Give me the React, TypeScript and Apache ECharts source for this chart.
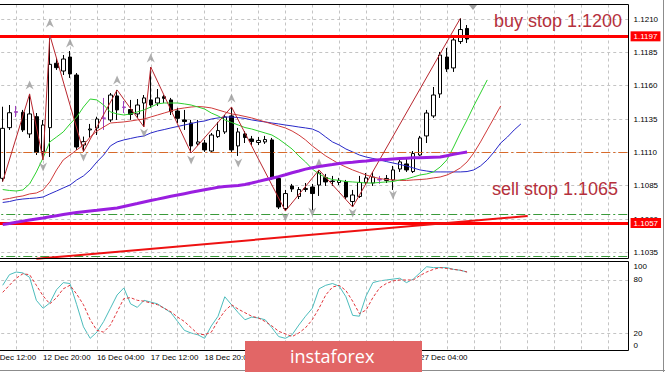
import React, { useEffect, useRef } from 'react';
import * as echarts from 'echarts';

// x-axis tick labels (every 8 H4 bars)
const tickLabels = ['11 Dec 12:00', '12 Dec 20:00', '16 Dec 04:00', '17 Dec 12:00', '18 Dec 20:00', '20 Dec 04:00', '23 Dec 12:00', '24 Dec 20:00', '27 Dec 04:00'];

// candles: [open, close, low, high]
const candles: number[][] = [
  [1.10905, 1.11280, 1.10880, 1.11442], [1.11285, 1.11397, 1.11268, 1.11455], [1.11400, 1.11405, 1.11365, 1.11448],
  [1.11400, 1.11268, 1.11253, 1.11418], [1.11238, 1.11388, 1.11208, 1.11538], [1.11367, 1.11100, 1.11080, 1.11395],
  [1.11105, 1.11305, 1.11043, 1.11343], [1.11285, 1.11760, 1.11065, 1.11980], [1.11768, 1.11735, 1.11718, 1.11808],
  [1.11710, 1.11800, 1.11680, 1.11830], [1.11815, 1.11688, 1.11658, 1.11860], [1.11680, 1.11140, 1.11118, 1.11695],
  [1.11155, 1.11180, 1.11105, 1.11218], [1.11268, 1.11275, 1.11208, 1.11313], [1.11283, 1.11350, 1.11230, 1.11367],
  [1.11358, 1.11355, 1.11268, 1.11508], [1.11343, 1.11530, 1.11328, 1.11545], [1.11523, 1.11418, 1.11343, 1.11568],
  [1.11440, 1.11437, 1.11395, 1.11485], [1.11421, 1.11384, 1.11343, 1.11493], [1.11388, 1.11455, 1.11358, 1.11500],
  [1.11470, 1.11508, 1.11290, 1.11530], [1.11493, 1.11455, 1.11433, 1.11740], [1.11470, 1.11508, 1.11448, 1.11575],
  [1.11517, 1.11505, 1.11470, 1.11530], [1.11493, 1.11405, 1.11380, 1.11508], [1.11410, 1.11355, 1.11320, 1.11433],
  [1.11343, 1.11331, 1.11268, 1.11418], [1.11320, 1.11148, 1.11095, 1.11343], [1.11163, 1.11178, 1.11148, 1.11343],
  [1.11170, 1.11118, 1.11103, 1.11193], [1.11110, 1.11230, 1.11103, 1.11245], [1.11218, 1.11263, 1.11208, 1.11328],
  [1.11253, 1.11365, 1.11238, 1.11380], [1.11373, 1.11118, 1.11095, 1.11440], [1.11148, 1.11253, 1.11073, 1.11283],
  [1.11238, 1.11211, 1.11170, 1.11260], [1.11200, 1.11181, 1.11155, 1.11223], [1.11174, 1.11189, 1.11155, 1.11215],
  [1.11178, 1.11196, 1.11163, 1.11223], [1.11193, 1.10908, 1.10893, 1.11208], [1.10904, 1.10690, 1.10675, 1.10923],
  [1.10679, 1.10791, 1.10660, 1.10818], [1.10848, 1.10825, 1.10803, 1.10863], [1.10769, 1.10821, 1.10750, 1.10840],
  [1.10821, 1.10829, 1.10803, 1.10870], [1.10840, 1.10791, 1.10668, 1.10863], [1.10855, 1.10945, 1.10773, 1.10968],
  [1.10911, 1.10878, 1.10848, 1.10938], [1.10885, 1.10881, 1.10848, 1.10923], [1.10874, 1.10889, 1.10855, 1.10908],
  [1.10881, 1.10765, 1.10750, 1.10893], [1.10731, 1.10780, 1.10690, 1.10818], [1.10769, 1.10874, 1.10758, 1.10923],
  [1.10874, 1.10908, 1.10855, 1.10945], [1.10870, 1.10915, 1.10848, 1.10953], [1.10893, 1.10896, 1.10863, 1.10923],
  [1.10889, 1.10904, 1.10870, 1.10930], [1.10893, 1.10968, 1.10818, 1.10998], [1.10975, 1.11028, 1.10953, 1.11065],
  [1.11013, 1.10968, 1.10953, 1.11065], [1.10956, 1.11091, 1.10945, 1.11110], [1.11080, 1.11208, 1.11073, 1.11223],
  [1.11223, 1.11395, 1.11170, 1.11418], [1.11373, 1.11530, 1.11358, 1.11590], [1.11538, 1.11830, 1.11508, 1.11853],
  [1.11815, 1.11725, 1.11703, 1.11883], [1.11733, 1.11943, 1.11703, 1.11958], [1.11931, 1.12021, 1.11913, 1.12105],
  [1.12029, 1.11950, 1.11920, 1.12055],
];
const dojiBars = [2, 15, 18, 56];

// Alligator (shifted into the future) and slow MA
const lipsGreen = [
  1.10821, 1.10814, 1.10810, 1.10818, 1.10863, 1.10953, 1.11058, 1.11178, 1.11215, 1.11253,
  1.11313, 1.11365, 1.11440, 1.11500, 1.11493, 1.11455, 1.11403, 1.11388, 1.11380, 1.11388,
  1.11403, 1.11418, 1.11440, 1.11463, 1.11470, 1.11470, 1.11470, 1.11463, 1.11455, 1.11440,
  1.11425, 1.11395, 1.11373, 1.11343, 1.11324, 1.11305, 1.11286, 1.11275, 1.11260, 1.11245,
  1.11230, 1.11200, 1.11163, 1.11125, 1.11073, 1.11028, 1.10975, 1.10938, 1.10911, 1.10896,
  1.10889, 1.10881, 1.10878, 1.10874, 1.10870, 1.10870, 1.10874, 1.10878, 1.10881, 1.10893,
  1.10900, 1.10915, 1.10930, 1.10938, 1.10953, 1.10990, 1.11043, 1.11140, 1.11245, 1.11343,
  1.11448, 1.11545, 1.11643,
];
const teethRed = [
  1.10746, 1.10754, 1.10765, 1.10773, 1.10788, 1.10795, 1.10818, 1.10878, 1.10968, 1.11043,
  1.11080, 1.11118, 1.11155, 1.11215, 1.11260, 1.11290, 1.11320, 1.11324, 1.11328, 1.11335,
  1.11343, 1.11350, 1.11365, 1.11380, 1.11395, 1.11410, 1.11425, 1.11433, 1.11440, 1.11444,
  1.11440, 1.11433, 1.11418, 1.11403, 1.11388, 1.11380, 1.11369, 1.11358, 1.11343, 1.11328,
  1.11313, 1.11298, 1.11283, 1.11260, 1.11230, 1.11193, 1.11148, 1.11110, 1.11073, 1.11043,
  1.11013, 1.10990, 1.10968, 1.10949, 1.10930, 1.10915, 1.10904, 1.10896, 1.10893, 1.10889,
  1.10889, 1.10893, 1.10896, 1.10900, 1.10908, 1.10915, 1.10930, 1.10953, 1.10983, 1.11028,
  1.11095, 1.11178, 1.11268, 1.11358, 1.11448,
];
const jawBlue = [
  1.10724, 1.10731, 1.10743, 1.10750, 1.10754, 1.10758, 1.10765, 1.10788, 1.10810, 1.10833,
  1.10855, 1.10893, 1.10923, 1.10968, 1.11028, 1.11080, 1.11148, 1.11178, 1.11193, 1.11204,
  1.11215, 1.11223, 1.11245, 1.11260, 1.11271, 1.11283, 1.11294, 1.11305, 1.11316, 1.11328,
  1.11335, 1.11350, 1.11358, 1.11365, 1.11365, 1.11361, 1.11354, 1.11343, 1.11335, 1.11328,
  1.11320, 1.11313, 1.11305, 1.11298, 1.11290, 1.11283, 1.11275, 1.11253, 1.11215, 1.11178,
  1.11155, 1.11125, 1.11103, 1.11080, 1.11065, 1.11054, 1.11043, 1.11031, 1.11020, 1.11009,
  1.10998, 1.10983, 1.10968, 1.10960, 1.10953, 1.10953, 1.10953, 1.10953, 1.10953, 1.10956,
  1.10968, 1.10998, 1.11043, 1.11103, 1.11170, 1.11215, 1.11268, 1.11313,
];
const maPurple = [
  1.10558, 1.10566, 1.10575, 1.10584, 1.10592, 1.10600, 1.10608, 1.10617, 1.10625, 1.10633,
  1.10641, 1.10648, 1.10654, 1.10660, 1.10665, 1.10671, 1.10677, 1.10683, 1.10694, 1.10705,
  1.10716, 1.10728, 1.10739, 1.10749, 1.10760, 1.10770, 1.10780, 1.10790, 1.10800, 1.10810,
  1.10819, 1.10828, 1.10838, 1.10844, 1.10848, 1.10852, 1.10859, 1.10870, 1.10882, 1.10894,
  1.10906, 1.10918, 1.10932, 1.10947, 1.10960, 1.10974, 1.10985, 1.10993, 1.11001, 1.11008,
  1.11016, 1.11022, 1.11026, 1.11031, 1.11035, 1.11040, 1.11044, 1.11047, 1.11050, 1.11053,
  1.11056, 1.11059, 1.11060, 1.11062, 1.11064, 1.11065, 1.11075, 1.11085, 1.11094, 1.11103,
];

// ZigZag turning points: [bar, 'H' | 'L']
const zigzagPoints: [number, string][] = [
  [0, 'L'], [4, 'H'], [6, 'L'], [7, 'H'], [12, 'L'], [17, 'H'], [21, 'L'], [22, 'H'],
  [28, 'L'], [34, 'H'], [42, 'L'], [47, 'H'], [52, 'L'], [68, 'H'],
];

// Fractals
const fractalUpBars = [4, 7, 10, 17, 22, 34, 47];
const fractalUpPrices = [1.11605, 1.12070, 1.11920, 1.11643, 1.11808, 1.11508, 1.11020];
const fractalDownBars = [6, 12, 21, 28, 35, 42, 46, 52, 58];
const fractalDownPrices = [1.10990, 1.11065, 1.11245, 1.11043, 1.11020, 1.10615, 1.10653, 1.10645, 1.10780];

// trend line
const trendBars = [5, 78];
const trendPrices = [1.10301, 1.10623];

// horizontal levels
const stopLevels = [1.1197, 1.1057];
const pivotLevels = [1.1110];
const greenLevels = [1.10637, 1.10323];
const bidPrice = 1.1195;

// Stochastic
const stochK = [
  74, 86, 89, 88, 83, 57, 48, 54, 69, 77, 76, 52, 27, 14, 21, 33, 48, 63, 71, 53,
  49, 57, 55, 53, 48, 43, 33, 23, 20, 18, 14, 28, 39, 61, 52, 43, 35, 38, 37, 35,
  26, 16, 14, 18, 29, 39, 48, 70, 74, 76, 73, 61, 40, 39, 62, 77, 79, 80, 81, 82,
  77, 81, 88, 95, 94, 94, 94, 92, 91, 89,
];
const stochD = [
  66, 74, 82, 87, 86, 74, 62, 53, 60, 70, 74, 64, 52, 35, 23, 21, 29, 44, 59, 60,
  57, 56, 54, 52, 48, 44, 38, 33, 26, 19, 18, 21, 34, 45, 52, 47, 43, 39, 37, 33,
  28, 22, 19, 16, 20, 26, 35, 48, 63, 72, 74, 68, 56, 42, 46, 60, 71, 76, 79, 80,
  80, 80, 85, 89, 92, 94, 93, 92, 91, 89,
];
const stochLevels = [80, 20];

const CAT_COUNT = 96;
const PAD = 2;
const FONT = '"Liberation Sans", Arial, sans-serif';

export default function App() {
  const ref = useRef<HTMLDivElement>(null);
  useEffect(() => {
    if (!ref.current) return;
    const chart = echarts.init(ref.current, undefined, { renderer: 'svg' });
    const cats = Array.from({ length: CAT_COUNT }, (_, k) => String(k));
    const padArr = (arr: number[]) => ['-', '-', ...arr];
    const purple = '#a040c0';
    const candleData = ['-', '-', ...candles.map((c, i) =>
      dojiBars.includes(i)
        ? { value: c, itemStyle: { color: purple, color0: purple, borderColor: purple, borderColor0: purple } }
        : c)];
    const zigzagData = zigzagPoints.map(([i, t]) => [i + PAD, t === 'H' ? candles[i][3] : candles[i][2]]);
    const upData = fractalUpBars.map((b, j) => [b + PAD, fractalUpPrices[j]]);
    const dnData = fractalDownBars.map((b, j) => [b + PAD, fractalDownPrices[j]]);
    const trendData = trendBars.map((b, j) => [b + PAD, trendPrices[j]]);
    const gridLine = { color: '#c4c4c4', type: [3, 3] as any, width: 1 };
    const left = -10.765;
    const width = 639.35;
    const tag = (bg: string, txt: string) => ({
      show: true, position: 'end', distance: 2, formatter: txt, backgroundColor: bg, color: '#fff',
      fontSize: 8, fontFamily: FONT, padding: [1, 3, 1, 3],
    });
    const arrowUp = 'path://M5,0 L10,10 L5,7 L0,10 Z';

    const option: any = {
      animation: false,
      backgroundColor: '#ffffff',
      grid: [
        { left, width, top: -14.333, height: 300, outerBoundsMode: 'none' },
        { left, width, top: 262.3, height: 88.4, outerBoundsMode: 'none' },
        { left, width, top: 4.5, height: 254, outerBoundsMode: 'none' },
      ],
      xAxis: [
        { type: 'category', gridIndex: 0, data: cats, boundaryGap: false, show: false },
        {
          type: 'category', gridIndex: 1, data: cats, boundaryGap: false,
          axisLine: { show: false }, axisTick: { show: false },
          axisLabel: {
            show: true, interval: (idx: number) => idx % 8 === 0 && idx / 8 < tickLabels.length,
            formatter: (_v: string, idx: number) => tickLabels[idx / 8] ?? '',
            align: 'left', fontSize: 8, fontFamily: FONT, color: '#000', margin: 3,
          },
          splitLine: { show: true, interval: (idx: number) => idx % 4 === 0, lineStyle: gridLine },
        },
        {
          type: 'category', gridIndex: 2, data: cats, boundaryGap: false,
          axisLine: { show: false }, axisTick: { show: false }, axisLabel: { show: false },
          splitLine: { show: true, interval: (idx: number) => idx % 4 === 0, lineStyle: gridLine },
        },
      ],
      yAxis: [
        {
          type: 'value', gridIndex: 0, position: 'right', min: 1.1010, max: 1.1235, interval: 0.0025,
          axisLine: { show: false }, axisTick: { show: false },
          axisLabel: {
            formatter: (v: number) => v.toFixed(4), fontSize: 8, fontFamily: FONT, color: '#000', margin: 5,
            showMinLabel: false, showMaxLabel: false,
          },
          splitLine: { show: true, showMinLine: false, showMaxLine: false, lineStyle: gridLine },
        },
        {
          type: 'value', gridIndex: 1, position: 'right', min: 0, max: 100, interval: 20,
          axisLine: { show: false }, axisTick: { show: false }, splitLine: { show: false },
          axisLabel: {
            fontSize: 8, fontFamily: FONT, color: '#000', margin: 5,
            formatter: (v: number) => v === 100 ? '{t|100}' : v === 0 ? '{b|0}' : (v === 80 || v === 20 ? String(v) : ''),
            rich: {
              t: { padding: [9, 0, 0, 0], fontSize: 8, fontFamily: FONT, color: '#000' },
              b: { padding: [0, 0, 11, 0], fontSize: 8, fontFamily: FONT, color: '#000' },
            },
          },
        },
        { type: 'value', gridIndex: 2, show: false, min: 0, max: 1 },
      ],
      series: [
        {
          type: 'candlestick', xAxisIndex: 0, yAxisIndex: 0, data: candleData, barWidth: 4, z: 3,
          itemStyle: { color: '#ffffff', color0: '#000000', borderColor: '#000000', borderColor0: '#000000', borderWidth: 1 },
        },
        { type: 'line', xAxisIndex: 0, yAxisIndex: 0, data: padArr(jawBlue), showSymbol: false, lineStyle: { color: '#2828c8', width: 1 }, z: 4 },
        { type: 'line', xAxisIndex: 0, yAxisIndex: 0, data: padArr(teethRed), showSymbol: false, lineStyle: { color: '#d03a3a', width: 1 }, z: 4 },
        { type: 'line', xAxisIndex: 0, yAxisIndex: 0, data: padArr(lipsGreen), showSymbol: false, lineStyle: { color: '#2ed12e', width: 1 }, z: 4 },
        { type: 'line', xAxisIndex: 0, yAxisIndex: 0, data: zigzagData, showSymbol: false, lineStyle: { color: '#b8262e', width: 1 }, z: 5 },
        {
          type: 'scatter', xAxisIndex: 0, yAxisIndex: 0, data: upData, symbol: arrowUp, symbolSize: [8, 9],
          itemStyle: { color: '#9a9a9a' }, z: 5,
        },
        {
          type: 'scatter', xAxisIndex: 0, yAxisIndex: 0, data: dnData, symbol: arrowUp, symbolSize: [8, 9], symbolRotate: 180,
          itemStyle: { color: '#9a9a9a' }, z: 5,
        },
        { type: 'line', xAxisIndex: 0, yAxisIndex: 0, data: trendData, showSymbol: false, lineStyle: { color: '#ee1111', width: 2 }, z: 6 },
        {
          type: 'line', xAxisIndex: 0, yAxisIndex: 0, data: padArr(maPurple), showSymbol: false,
          lineStyle: { color: '#9a1ee0', width: 3 }, z: 6,
          markLine: {
            silent: true, symbol: ['none', 'none'], precision: 5,
            data: [
              { yAxis: bidPrice, lineStyle: { opacity: 0 }, label: tag('#000000', bidPrice.toFixed(4)) },
              ...pivotLevels.map((v) => ({ yAxis: v, lineStyle: { color: '#d86a2a', width: 1, type: [9, 3, 2, 3] }, label: { show: false } })),
              ...greenLevels.map((v) => ({ yAxis: v, lineStyle: { color: '#3a9a3a', width: 1, type: [9, 3, 2, 3] }, label: { show: false } })),
              ...stopLevels.map((v) => ({ yAxis: v, lineStyle: { color: '#ff0000', width: 3, type: 'solid' }, label: tag('#ff0000', v.toFixed(4)) })),
            ],
          },
        },
        {
          type: 'line', xAxisIndex: 1, yAxisIndex: 1, data: padArr(stochK), showSymbol: false,
          lineStyle: { color: '#4cbcbc', width: 1 }, z: 4,
          markLine: {
            silent: true, symbol: ['none', 'none'], label: { show: false }, precision: 2,
            data: stochLevels.map((v) => ({ yAxis: v, lineStyle: gridLine })),
          },
        },
        {
          type: 'line', xAxisIndex: 1, yAxisIndex: 1, data: padArr(stochD), showSymbol: false,
          lineStyle: { color: '#e0353b', width: 1, type: [3, 2] }, z: 5,
        },
      ],
      graphic: [
        { type: 'rect', shape: { x: -1, y: 4.5, width: 629.5, height: 254 }, style: { fill: 'none', stroke: '#000', lineWidth: 1 }, z: 50 },
        { type: 'rect', shape: { x: -1, y: 261.5, width: 629.5, height: 89 }, style: { fill: 'none', stroke: '#000', lineWidth: 1 }, z: 50 },
        { type: 'line', shape: { x1: 663.5, y1: 0, x2: 663.5, y2: 372 }, style: { stroke: '#8c8c8c', lineWidth: 1 }, z: 50 },
        { type: 'line', shape: { x1: 0, y1: 370.5, x2: 665, y2: 370.5 }, style: { stroke: '#8c8c8c', lineWidth: 1 }, z: 50 },
        { type: 'polygon', shape: { points: [[469, 5], [477, 5], [473, 10]] }, style: { fill: '#a0a0a0' }, z: 50 },
        {
          type: 'text', x: 494, y: 21, z: 60,
          style: { text: 'buy stop 1.1200', fill: '#b5303c', font: '18px "Liberation Sans", Arial, sans-serif', verticalAlign: 'middle', align: 'left' },
        },
        {
          type: 'text', x: 492, y: 189, z: 60,
          style: { text: 'sell stop 1.1065', fill: '#b5303c', font: '18px "Liberation Sans", Arial, sans-serif', verticalAlign: 'middle', align: 'left' },
        },
        { type: 'rect', shape: { x: 245, y: 341, width: 177, height: 31 }, style: { fill: '#e26666' }, z: 70 },
        {
          type: 'text', x: 290, y: 356, z: 71,
          style: { text: 'instaforex', fill: '#ffffff', font: '18px "Open Sans", "Noto Sans", sans-serif', verticalAlign: 'middle', align: 'left' },
        },
      ],
    };
    chart.setOption(option);
    return () => chart.dispose();
  }, []);
  return (
    <div style={{ position: 'fixed', left: 0, top: 0, width: 665, height: 372, background: '#fff' }}>
      <div ref={ref} style={{ width: 665, height: 372 }} />
    </div>
  );
}
